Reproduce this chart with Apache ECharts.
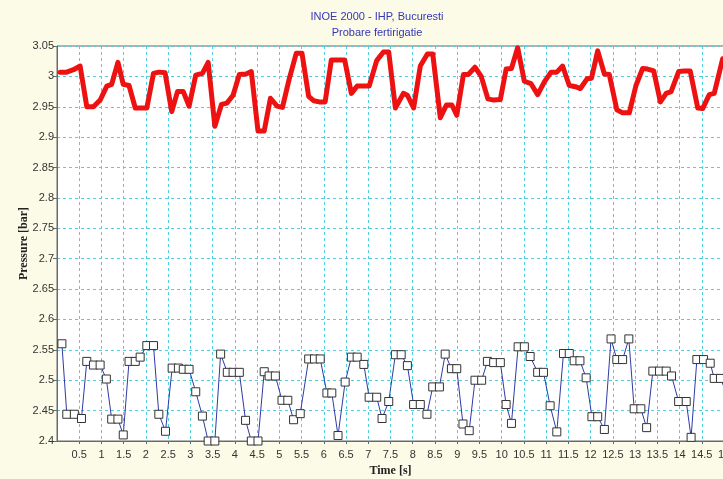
<!DOCTYPE html>
<html>
<head>
<meta charset="utf-8">
<script src="https://cdn.jsdelivr.net/npm/echarts@6/dist/echarts.min.js"></script>
<style>
html,body{margin:0;padding:0;background:#fbfbe8;}
#chart{width:723px;height:479px;}
</style>
</head>
<body>
<div id="chart"></div>
<script>
// Red series (upper) — time [s] and pressure [bar]
var timeRed = [0.07,0.22,0.37,0.52,0.67,0.82,0.97,1.12,1.23,1.37,1.49,1.62,1.76,1.88,2.02,2.17,2.29,2.43,2.58,2.71,2.84,2.97,3.12,3.27,3.40,3.55,3.70,3.82,3.96,4.10,4.25,4.37,4.52,4.66,4.80,4.95,5.07,5.22,5.38,5.51,5.66,5.77,5.90,6.03,6.17,6.32,6.47,6.62,6.75,6.90,7.02,7.19,7.34,7.46,7.61,7.79,7.88,8.02,8.17,8.33,8.45,8.62,8.76,8.88,8.99,9.14,9.25,9.40,9.54,9.69,9.82,9.97,10.10,10.22,10.36,10.51,10.66,10.81,10.96,11.11,11.24,11.37,11.52,11.66,11.77,11.92,12.02,12.16,12.31,12.42,12.59,12.72,12.87,13.02,13.17,13.28,13.42,13.57,13.70,13.81,13.98,14.11,14.24,14.41,14.52,14.67,14.78,14.97];
var pressureRed = [3.007,3.007,3.011,3.017,2.950,2.950,2.961,2.984,2.987,3.023,2.987,2.985,2.948,2.948,2.948,3.005,3.007,3.006,2.942,2.975,2.975,2.951,3.002,3.005,3.023,2.918,2.954,2.956,2.969,3.003,3.004,3.008,2.910,2.910,2.964,2.951,2.949,2.995,3.038,3.038,2.967,2.960,2.958,2.958,3.027,3.027,3.027,2.972,2.984,2.984,2.984,3.026,3.040,3.040,2.948,2.972,2.969,2.948,3.017,3.037,3.037,2.932,2.953,2.953,2.936,3.003,3.003,3.015,3.000,2.963,2.961,2.962,3.012,3.013,3.047,2.992,2.988,2.970,2.991,3.007,3.007,3.017,2.985,2.983,2.980,2.996,2.997,3.042,3.004,3.003,2.945,2.940,2.940,2.985,3.013,3.012,3.009,2.958,2.972,2.975,3.008,3.009,3.009,2.948,2.947,2.970,2.972,3.029];

// Blue series (lower, square markers)
var timeBlue = [0.11,0.22,0.39,0.55,0.67,0.82,0.97,1.11,1.23,1.37,1.49,1.62,1.76,1.87,2.02,2.17,2.29,2.44,2.59,2.73,2.84,2.97,3.12,3.27,3.40,3.55,3.68,3.83,3.96,4.10,4.24,4.37,4.52,4.66,4.77,4.91,5.06,5.19,5.32,5.47,5.66,5.79,5.92,6.07,6.18,6.32,6.48,6.62,6.75,6.90,7.02,7.19,7.31,7.46,7.61,7.74,7.88,8.02,8.17,8.32,8.45,8.60,8.73,8.87,8.99,9.13,9.27,9.40,9.55,9.68,9.82,9.97,10.10,10.22,10.37,10.51,10.64,10.81,10.94,11.09,11.24,11.39,11.52,11.63,11.76,11.90,12.03,12.16,12.31,12.46,12.59,12.72,12.86,12.98,13.13,13.26,13.40,13.55,13.70,13.82,13.98,14.15,14.26,14.39,14.54,14.69,14.78,14.92,15.05];
var pressureBlue = [2.560,2.444,2.444,2.437,2.531,2.525,2.525,2.502,2.436,2.436,2.410,2.531,2.531,2.538,2.557,2.557,2.444,2.416,2.520,2.520,2.518,2.518,2.481,2.441,2.400,2.400,2.543,2.513,2.513,2.513,2.434,2.400,2.400,2.514,2.507,2.507,2.467,2.467,2.435,2.445,2.535,2.535,2.535,2.479,2.479,2.409,2.497,2.538,2.538,2.526,2.472,2.472,2.437,2.465,2.542,2.542,2.524,2.460,2.460,2.444,2.489,2.489,2.543,2.519,2.519,2.428,2.417,2.500,2.500,2.531,2.529,2.529,2.460,2.429,2.555,2.555,2.539,2.513,2.513,2.458,2.415,2.544,2.544,2.532,2.532,2.504,2.440,2.440,2.419,2.568,2.534,2.534,2.568,2.453,2.453,2.422,2.515,2.515,2.515,2.507,2.465,2.465,2.406,2.534,2.534,2.528,2.503,2.503,2.480];

var titleLines = ['INOE 2000 - IHP, Bucuresti', 'Probare fertirigatie'];
var yAxisName = 'Pressure [bar]';
var xAxisName = 'Time [s]';

function pairs(t, v) { return t.map(function (x, i) { return [x, v[i]]; }); }

var chart = echarts.init(document.getElementById('chart'), null, {renderer: 'canvas'});
var labelFont = {color: '#333', fontSize: 11, fontFamily: 'Liberation Sans, Arial, sans-serif'};
chart.setOption({
  backgroundColor: '#fbfbe8',
  animation: false,
  title: {
    text: titleLines.join('\n'),
    left: 372, top: 4, textAlign: 'center',
    textStyle: {color: '#3636b4', fontSize: 11, fontWeight: 'normal', fontFamily: 'Liberation Sans, Arial, sans-serif', lineHeight: 16}
  },
  grid: {left: 57, right: -1, top: 46, bottom: 38, outerBoundsMode: 'none', containLabel: false, show: true, backgroundColor: '#ffffff', borderColor: '#6a6a6a', borderWidth: 1},
  xAxis: {
    type: 'value', min: 0, max: 15, interval: 0.5,
    name: xAxisName, nameLocation: 'middle', nameGap: 24, nameMoveOverlap: false,
    nameTextStyle: {color: '#222', fontSize: 12, fontWeight: 'bold', fontFamily: 'Liberation Serif, Times New Roman, serif'},
    axisLine: {show: true, onZero: false, lineStyle: {color: '#6a6a6a'}},
    axisTick: {show: true, length: 3, lineStyle: {color: '#6a6a6a'}},
    axisLabel: Object.assign({margin: 8, showMinLabel: false, hideOverlap: false}, labelFont),
    splitLine: {show: true, lineStyle: {color: '#55cce0', type: [3, 3], width: 1}}
  },
  yAxis: {
    type: 'value', min: 2.4, max: 3.05, interval: 0.05,
    name: yAxisName, nameLocation: 'middle', nameGap: 27, nameMoveOverlap: false,
    nameTextStyle: {color: '#222', fontSize: 12, fontWeight: 'bold', fontFamily: 'Liberation Serif, Times New Roman, serif'},
    axisLine: {show: true, onZero: false, lineStyle: {color: '#6a6a6a'}},
    axisTick: {show: true, length: 4, lineStyle: {color: '#6a6a6a'}},
    axisLabel: Object.assign({margin: 3, formatter: function (v) { return String(Math.round(v * 100) / 100); }}, labelFont),
    splitLine: {show: true, lineStyle: {color: '#55cce0', type: [3, 3], width: 1}}
  },
  series: [
    {
      type: 'line', data: pairs(timeRed, pressureRed), showSymbol: false, symbol: 'none',
      lineStyle: {color: '#ee1111', width: 5, join: 'round', cap: 'round'}, z: 3
    },
    {
      type: 'line', data: pairs(timeBlue, pressureBlue), symbol: 'rect', symbolSize: 8,
      lineStyle: {color: '#2e3aa6', width: 1},
      itemStyle: {color: '#ffffff', borderColor: '#333333', borderWidth: 1}, z: 3
    }
  ]
});
</script>
</body>
</html>
